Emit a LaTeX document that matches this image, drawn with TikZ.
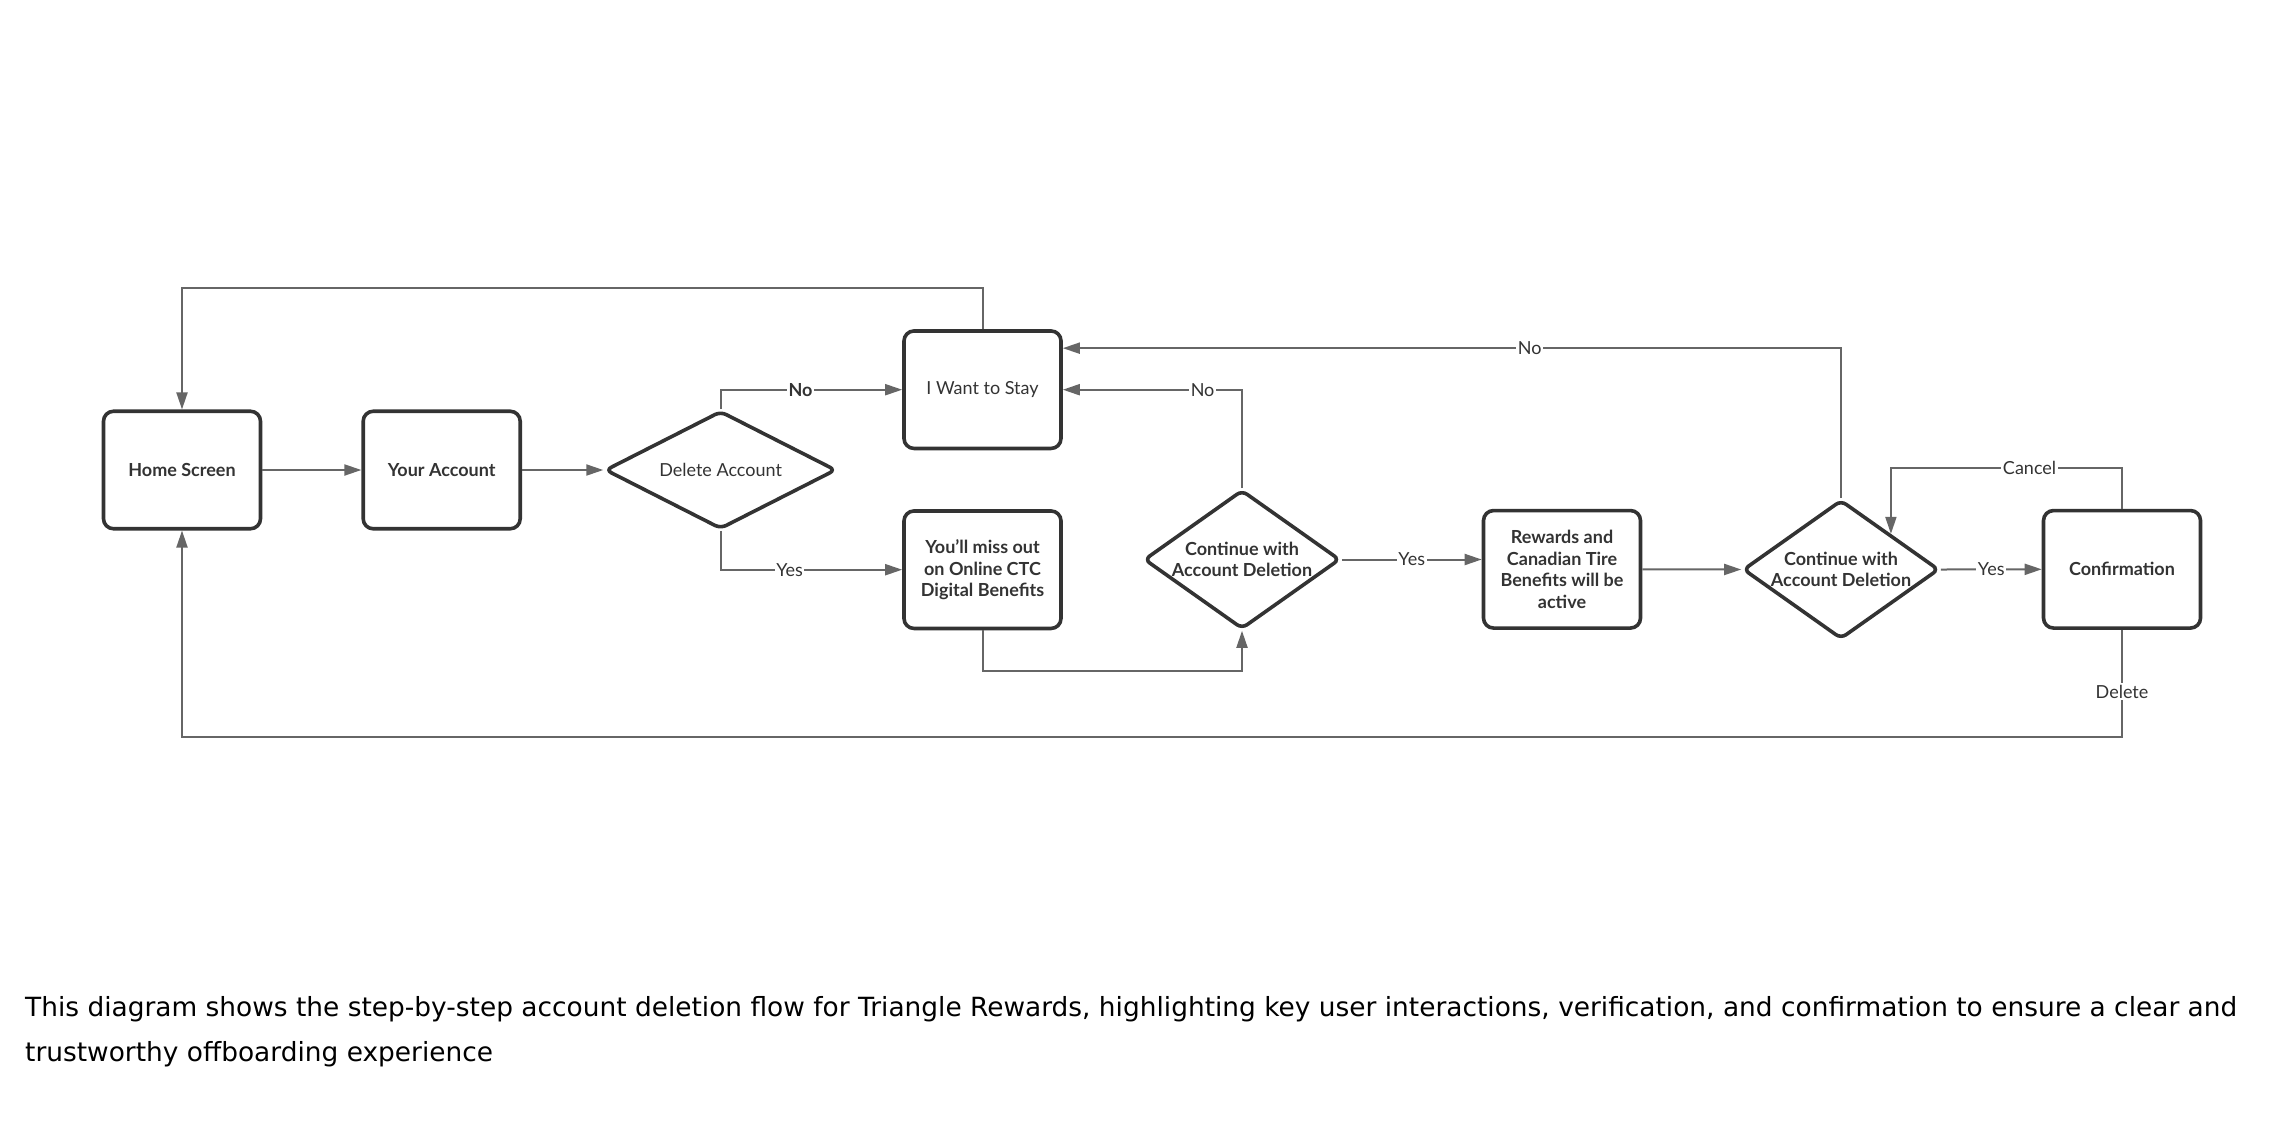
\documentclass[tikz,border=0pt]{standalone}
\usepackage{fontspec}
\setmainfont{Lato}
\newfontfamily\captionfont{DejaVu Sans}
\usetikzlibrary{arrows.meta,shapes.geometric}
\definecolor{boxline}{HTML}{333333}
\definecolor{connline}{HTML}{666666}

\begin{document}
\begin{tikzpicture}[x=1pt, y=-1pt, >={Triangle[length=17pt,width=11pt]},
    box/.style = {draw=boxline, line width=3.6pt, rounded corners=10pt, minimum width=157pt, minimum height=117.5pt, inner sep=0pt, align=center, text=boxline, font=\fontsize{18}{21.5}\selectfont\bfseries},
    decision/.style = {diamond, draw=boxline, line width=3.6pt, rounded corners=6pt, inner sep=-3pt, aspect=1.42, align=center, text=boxline, font=\fontsize{18}{21.5}\selectfont\bfseries},
    conn/.style = {draw=connline, line width=2pt},
    lbl/.style = {fill=white, inner sep=1.5pt, text=boxline, font=\fontsize{18}{21.5}\selectfont}]
    \useasboundingbox (0,0) rectangle (2296,1128);

    % main row
    \node[box] (n_home) at (182,470) {Home Screen};
    \node[box] (n_acct) at (441.7,470) {Your Account};
    \node[decision, aspect=2, minimum width=231pt, minimum height=118pt, font=\fontsize{18}{21.5}\selectfont] (n_del) at (720.6,470) {Delete Account};
    \node[box, font=\fontsize{18}{21.5}\selectfont] (n_stay) at (982.5,389.7) {I Want to Stay};
    \node[box] (n_miss) at (982.5,569.7) {You'll miss out\\on Online CTC\\Digital Benefits};
    \node[decision, minimum width=196pt, minimum height=139pt] (n_cont1) at (1242,559.5) {Continue with\\Account Deletion};
    \node[box] (n_rew) at (1562,569.3) {Rewards and\\Canadian Tire\\Benefits will be\\active};
    \node[decision, minimum width=196pt, minimum height=139pt] (n_cont2) at (1841,569.5) {Continue with\\Account Deletion};
    \node[box] (n_conf) at (2122,569.3) {Confirmation};

    % connectors
    \draw[conn,->] (n_home) -- (n_acct);
    \draw[conn,->] (n_acct) -- (n_del);
    \draw[conn,->] (n_del.north) |- node[lbl, pos=0.72, font=\fontsize{18}{21.5}\selectfont\bfseries] {No} (n_stay.west);
    \draw[conn,->] (n_del.south) |- node[lbl, pos=0.69] {Yes} (n_miss.west);
    \draw[conn,->] (n_stay.north) -- ++(0,-41.6) -| (n_home.north);
    \draw[conn,->] (n_miss.south) -- ++(0,41) -| (n_cont1.south);
    \draw[conn,->] (n_cont1.north) |- node[lbl, pos=0.61] {No} (n_stay.east);
    \draw[conn,->] (n_cont1.east) -- node[lbl] {Yes} (n_cont1.east -| n_rew.west);
    \draw[conn,->] (n_rew.east) -- (n_cont2.west);
    \draw[conn,->] (n_cont2.north) |- node[lbl, pos=0.70] {No} ([yshift=-19pt]n_stay.north east);
    \draw[conn,->] (n_cont2.east) -- node[lbl] {Yes} (n_conf.west);
    \draw[conn,->] (n_conf.north) -- ++(0,-40.7) -| node[lbl, pos=0.2] {Cancel} (n_cont2.north east);
    \draw[conn,->] (n_conf.south) -- node[lbl, pos=0.575] {Delete} ++(0,107.3) -| (n_home.south);

    % caption
    \node[anchor=base west, align=left, inner sep=0pt, text=black, font=\captionfont\fontsize{26.4}{44.3}\selectfont] (n_caption) at (25,1061) {This diagram shows the step-by-step account deletion flow for Triangle Rewards, highlighting key user interactions, verification, and confirmation to ensure a clear and\\trustworthy offboarding experience};
\end{tikzpicture}
\end{document}
